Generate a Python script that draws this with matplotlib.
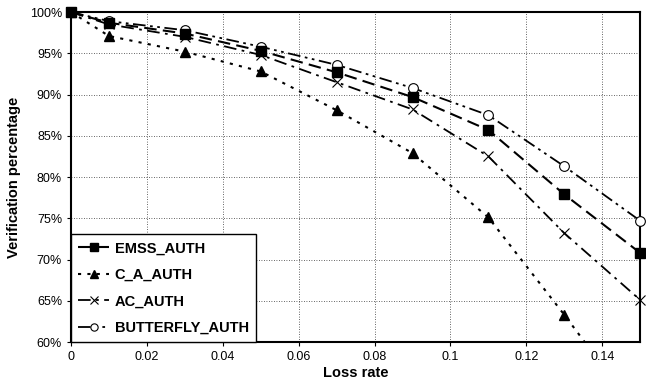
import matplotlib
matplotlib.use("Agg")
import matplotlib.pyplot as plt
from matplotlib.ticker import FuncFormatter

plt.rcParams['font.family'] = ['Liberation Sans', 'DejaVu Sans']

loss = [0, 0.01, 0.03, 0.05, 0.07, 0.09, 0.11, 0.13, 0.15]
emss = [100, 98.7, 97.4, 95.3, 92.7, 89.7, 85.7, 77.9, 70.8]
c_a = [100, 97.1, 95.2, 92.8, 88.1, 82.9, 75.1, 63.3, 51.0]
ac = [100, 98.5, 97.0, 94.8, 91.5, 88.2, 82.5, 73.2, 65.1]
butterfly = [100, 98.9, 97.8, 95.8, 93.6, 90.8, 87.5, 81.3, 74.7]

fig = plt.figure(figsize=(6.46, 3.9), dpi=100)
ax = fig.add_axes([0.110, 0.123, 0.881, 0.846])

ax.plot(loss, c_a, color='black', lw=1.5, dashes=(1.5, 3), marker='^',
        ms=7, label='C_A_AUTH', clip_on=True, zorder=3)
ax.plot(loss, ac, color='black', lw=1.3, dashes=(7, 3, 1.5, 3), marker='x',
        ms=7, mew=0.8, label='AC_AUTH', clip_on=False, zorder=3)
ax.plot(loss, butterfly, color='black', lw=1.3, dashes=(7, 2.5, 1.5, 2.5, 1.5, 2.5),
        marker='o', ms=7, mfc='white', mew=0.8, label='BUTTERFLY_AUTH', clip_on=False, zorder=3)
ax.plot(loss, emss, color='black', lw=1.5, dashes=(6, 3), marker='s',
        ms=7, label='EMSS_AUTH', clip_on=False, zorder=4)

ax.set_xlim(0, 0.15)
ax.set_ylim(60, 100)
ax.set_xticks([0, 0.02, 0.04, 0.06, 0.08, 0.1, 0.12, 0.14])
ax.set_xticklabels(['0', '0.02', '0.04', '0.06', '0.08', '0.1', '0.12', '0.14'])
ax.set_yticks(range(60, 101, 5))
ax.yaxis.set_major_formatter(FuncFormatter(lambda v, p: '%d%%' % v))
ax.grid(True, color='#333333', linestyle=(0, (1, 2)), lw=0.6)
ax.tick_params(labelsize=9, length=3, direction='out')
for s in ax.spines.values():
    s.set_linewidth(1.5)

ax.set_xlabel('Loss rate', fontsize=10.5, fontweight='bold', labelpad=2)
ax.set_ylabel('Verification percentage', fontsize=10.5, fontweight='bold', labelpad=6)

h, l = ax.get_legend_handles_labels()
order = [3, 0, 1, 2]
leg = ax.legend([h[i] for i in order], [l[i] for i in order],
                loc='lower left', borderaxespad=0, fancybox=False, framealpha=1,
                edgecolor='black', prop={'weight': 'bold', 'size': 10.5},
                handlelength=2.1, handletextpad=0.4, labelspacing=0.85,
                markerscale=0.75, borderpad=0.5)
leg.get_frame().set_linewidth(1.0)

fig.savefig('out.png', dpi=100)
